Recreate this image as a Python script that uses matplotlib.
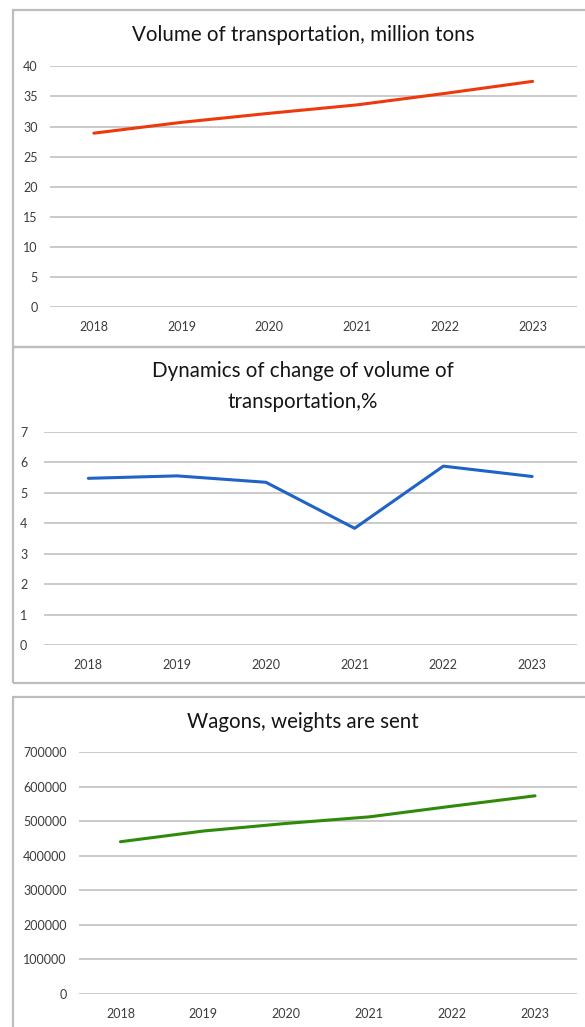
"""
Rail freight dashboard — three stacked Excel-style line charts
(volume, change %, wagons sent) for 2018-2023.
"""
import matplotlib

matplotlib.use('Agg')
import matplotlib.pyplot as plt
from matplotlib.patches import FancyBboxPatch
from matplotlib.ticker import FuncFormatter

plt.rcParams['font.family'] = ['Lato', 'DejaVu Sans']

# --- data ---
years = ['2018', '2019', '2020', '2021', '2022', '2023']
volume_mt = [28.9, 30.7, 32.2, 33.6, 35.5, 37.5]
change_pct = [5.47, 5.55, 5.34, 3.83, 5.87, 5.53]
wagons_sent = [441000, 472000, 494000, 513000, 544000, 574000]

titles = ['Volume of transportation, million tons',
          'Dynamics of change of volume of\ntransportation,%',
          'Wagons, weights are sent']

W, H = 585, 1027
GRID = '#c6c6c6'
TICK = '#3c3c3c'
BORDER = '#bdbdbd'

fig = plt.figure(figsize=(W / 100, H / 100), dpi=100)


def px_box(left, top, right, bottom):
    """pixel coords (top-down) -> figure fraction [l, b, w, h]"""
    return [left / W, 1 - bottom / H, (right - left) / W, (bottom - top) / H]


def panel(frame, axes_px, title, title_y, series, color, yticks, ypad):
    # outer chart border (excel chart area)
    l, t, r, b = frame
    fig.patches.append(FancyBboxPatch((l / W, 1 - b / H), (r - l) / W, (b - t) / H,
                                      boxstyle='square,pad=0',
                                      transform=fig.transFigure, fill=False,
                                      edgecolor=BORDER, linewidth=1.6))
    fig.text(303 / W, 1 - title_y / H, title, ha='center', va='center',
             fontsize=14.8, color='#151515', linespacing=1.65)

    ax = fig.add_axes(px_box(*axes_px))
    x = range(len(years))
    ax.plot(x, series, color=color, linewidth=2.2, solid_capstyle='round', zorder=3)
    ax.set_xlim(-0.5, len(years) - 0.5)
    ax.set_ylim(yticks[0], yticks[-1])
    ax.set_yticks(yticks)
    ax.set_xticks(list(x))
    ax.set_xticklabels(years)
    ax.grid(axis='y', color=GRID, linewidth=1.3)
    ax.set_axisbelow(True)
    for s in ax.spines.values():
        s.set_visible(False)
    ax.tick_params(axis='both', length=0, labelsize=9, colors=TICK)
    ax.tick_params(axis='y', pad=ypad)
    ax.tick_params(axis='x', pad=10)
    ax.patch.set_alpha(0)
    return ax


# Figure 1: volume of transportation
panel((12.5, 10, 600, 346.5), (50, 66.3, 576.5, 307.3), titles[0], 35,
      volume_mt, '#ec3a0c', list(range(0, 41, 5)), 9)

# Figure 2: dynamics of change, %
panel((12.5, 347, 600, 682.5), (44, 431.7, 576.5, 645), titles[1], 386.5,
      change_pct, '#1f63c6', list(range(0, 8)), 12)

# Figure 3: wagons sent
ax3 = panel((12.5, 697, 600, 1040), (79, 752.3, 576.5, 994), titles[2], 722,
            wagons_sent, '#2f8a0a', list(range(0, 700001, 100000)), 9)
ax3.yaxis.set_major_formatter(FuncFormatter(lambda v, _: f'{int(v)}'))

plt.savefig('out.png', dpi=100)
plt.close()
